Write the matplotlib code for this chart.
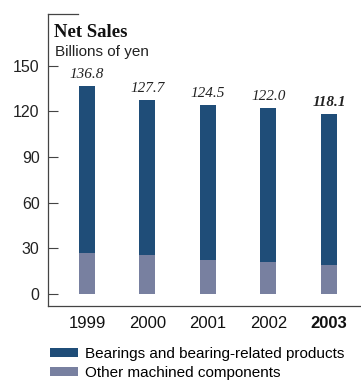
import numpy as np
import matplotlib
matplotlib.use('Agg')
import matplotlib.pyplot as plt
from matplotlib.lines import Line2D

##################
# Data
##################

years = ['1999', '2000', '2001', '2002', '2003']
total_sales = [136.8, 127.7, 124.5, 122.0, 118.1]
other_components = [27.0, 25.5, 22.5, 21.0, 19.0]
bearings = [t - o for t, o in zip(total_sales, other_components)]
yticks = [0, 30, 60, 90, 120, 150]

dark_blue = '#1f4d78'
grey_blue = '#7880a0'
axis_color = '#444444'
text_color = '#222222'

##################
# Figure
##################

fig = plt.figure(figsize=(3.61, 3.80), dpi=100, facecolor='white')
ax = fig.add_axes([48 / 361, 74 / 380, 313 / 361, 292 / 380])

x = np.arange(len(years))
width = 16 / 60.5

b1 = ax.bar(x, other_components, width, color=grey_blue, label='Other machined components')
b2 = ax.bar(x, bearings, width, bottom=other_components, color=dark_blue,
            label='Bearings and bearing-related products')

# Value labels on top of the bars
for i, v in enumerate(total_sales):
    ax.annotate(f'{v:.1f}', (x[i], v), xytext=(0, 3.5), textcoords='offset points',
                ha='center', va='bottom', family='Liberation Serif', style='italic',
                fontsize=11, fontweight='bold' if i == len(years) - 1 else 'normal',
                color=text_color)

ax.set_xlim(-0.645, 4.53)
ax.set_ylim(-7.9, 184)

ax.set_yticks(yticks)
ax.set_yticklabels([str(t) for t in yticks], family='Liberation Sans', fontsize=11.5,
                   color=text_color)
ax.tick_params(axis='y', direction='in', length=7.2, width=0.8, color=axis_color, pad=6)

ax.set_xticks(x)
ax.set_xticklabels(years, family='Liberation Sans', fontsize=12, color='#111111')
ax.tick_params(axis='x', length=0, pad=7)
ax.get_xticklabels()[-1].set_fontweight('bold')

for s in ['top', 'right']:
    ax.spines[s].set_visible(False)
for s in ['left', 'bottom']:
    ax.spines[s].set_color(axis_color)
    ax.spines[s].set_linewidth(0.9)

# Short top rule
ax.add_line(Line2D([0, 30 / 313], [1, 1], transform=ax.transAxes, color=axis_color,
                   linewidth=0.9, clip_on=False))

# Titles
ax.text(6 / 313, 1 - 23 / 292, 'Net Sales', transform=ax.transAxes,
        family='Liberation Serif', fontweight='bold', fontsize=13.5, va='baseline',
        color='#111111')
ax.text(7 / 313, 1 - 42 / 292, 'Billions of yen', transform=ax.transAxes,
        family='Liberation Sans', fontsize=11, va='baseline', color=text_color)

# Legend
fig.legend(handles=[b2, b1], labels=['Bearings and bearing-related products',
                                     'Other machined components'],
           loc='upper left', bbox_to_anchor=(50 / 361, 1 - 347 / 380), frameon=False,
           prop={'family': 'Liberation Sans', 'size': 11}, handlelength=1.85,
           handleheight=0.55, handletextpad=0.45, labelspacing=0.32, borderpad=0,
           borderaxespad=0)

fig.savefig('out.png', dpi=100, facecolor='white')
